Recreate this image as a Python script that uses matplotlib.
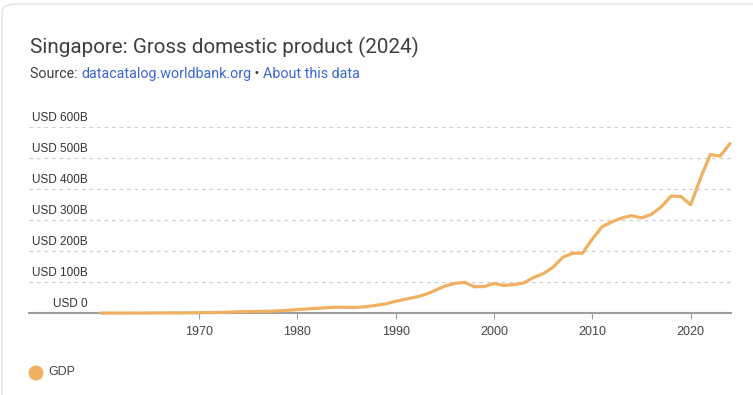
import matplotlib
matplotlib.use("Agg")
import matplotlib.pyplot as plt
import matplotlib.transforms as mtransforms
from matplotlib.patches import FancyBboxPatch, Ellipse

# Datos (miles de millones de USD, a precios corrientes)
years = list(range(1960, 2025))
gdp = [0.70, 0.76, 0.82, 0.92, 0.89, 0.97, 1.09, 1.24, 1.43, 1.68,
       1.92, 2.26, 2.72, 3.69, 4.90, 5.60, 6.07, 6.62, 7.88, 9.70,
       11.9, 14.2, 16.1, 18.1, 19.7, 19.0, 18.9, 21.3, 25.9, 30.6,
       38.9, 45.5, 52.1, 60.6, 73.7, 87.9, 96.3, 100.1, 85.7, 86.3,
       96.1, 89.8, 92.5, 97.6, 115.0, 127.8, 148.6, 180.9, 193.6, 194.2,
       239.8, 279.4, 295.1, 307.6, 314.9, 308.0, 319.0, 343.3, 378.0, 377.0,
       350.0, 436.0, 512.0, 507.0, 547.4]
ytick_vals = [0, 100, 200, 300, 400, 500, 600]
ytick_labels = ['USD 0', 'USD 100B', 'USD 200B', 'USD 300B', 'USD 400B', 'USD 500B', 'USD 600B']
xtick_vals = [1970, 1980, 1990, 2000, 2010, 2020]

W, H = 753, 395
fig = plt.figure(figsize=(W / 100, H / 100), dpi=100)
fig.patch.set_facecolor('white')

# Tarjeta de fondo
card = FancyBboxPatch((2 / W, -0.1), 1.2, 1.09, boxstyle="round,pad=0,rounding_size=0.02",
                      transform=fig.transFigure, facecolor='white', edgecolor='#e3e3e3',
                      lw=1, zorder=-5)
fig.patches.append(card)

col_line = '#F0B062'
txt_dark = '#3c4043'

# Ejes en píxeles
x0, x1 = 29, 731
ybot, ytop = 313.3, 127.3
ax = fig.add_axes([x0 / W, 1 - ybot / H, (x1 - x0) / W, (ybot - ytop) / H], zorder=2)
ppy = (730 - 100.8) / 64.0
ax.set_xlim(1960 - (100.8 - x0) / ppy, 2024 + (x1 - 730) / ppy)
ax.set_ylim(0, 600)
ax.patch.set_visible(False)

for s in ['top', 'right', 'left']:
    ax.spines[s].set_visible(False)
ax.spines['bottom'].set_color('#9e9e9e')
ax.spines['bottom'].set_linewidth(1.5)

for v in ytick_vals[1:]:
    ax.axhline(v, color='#d0d0d0', lw=0.9, ls=(0, (3, 3)), zorder=1)

ax.plot(years, gdp, color=col_line, lw=2.3, solid_capstyle='round',
        solid_joinstyle='round', zorder=3, clip_on=False)

ax.set_yticks([])
ax.set_xticks(xtick_vals)
ax.set_xticklabels([str(v) for v in xtick_vals], fontsize=9, color='#444444',
                   family='Liberation Sans')
ax.tick_params(axis='x', length=4, width=0.8, color='#9e9e9e', pad=5)

# Etiquetas del eje Y encima de cada línea de rejilla
trans = mtransforms.blended_transform_factory(fig.transFigure, ax.transData)
trans = trans + mtransforms.ScaledTranslation(0, 9 / 100, fig.dpi_scale_trans)
for v, lab in zip(ytick_vals, ytick_labels):
    ax.text(88 / W, v, lab, transform=trans, ha='right', va='center',
            fontsize=8.5, color='#333333', family='Liberation Sans')

# Título y fuente
fig.text(30 / W, 1 - 47 / H, 'Singapore: Gross domestic product (2024)', fontsize=14.9,
         color=txt_dark, family='Roboto', va='center')
fs = 10.25
t1 = fig.text(30 / W, 1 - 74 / H, 'Source: ', fontsize=fs, color=txt_dark,
              family='Roboto', va='center')
fig.canvas.draw()
r = fig.canvas.get_renderer()
bb = t1.get_window_extent(r)
t2 = fig.text(bb.x1 / W, 1 - 74 / H, 'datacatalog.worldbank.org', fontsize=fs,
              color='#3a67d0', family='Roboto', va='center')
bb = t2.get_window_extent(r)
t3 = fig.text(bb.x1 / W, 1 - 74 / H, ' \u2022 ', fontsize=fs, color=txt_dark,
              family='Roboto', va='center')
bb = t3.get_window_extent(r)
fig.text(bb.x1 / W, 1 - 74 / H, 'About this data', fontsize=fs, color='#3a67d0',
         family='Roboto', va='center')

# Leyenda
fig.patches.append(Ellipse((36 / W, 1 - 373 / H), 15 / W, 15 / H, transform=fig.transFigure,
                           facecolor=col_line, edgecolor='none'))
fig.text(48 / W, 1 - 372 / H, 'GDP', fontsize=9, color='#444444',
         family='Liberation Sans', va='center')

fig.savefig('out.png', dpi=100, facecolor='white')
